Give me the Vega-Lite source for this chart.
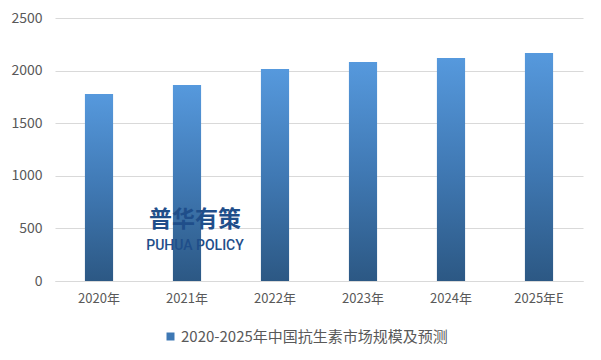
{
  "$schema": "https://vega.github.io/schema/vega-lite/v6.json",
  "autosize": {"type": "none"},
  "width": 528,
  "height": 263,
  "padding": {"left": 55, "top": 18, "right": 18, "bottom": 79},
  "background": "white",
  "config": {
    "view": {"stroke": null},
    "font": "Noto Sans CJK SC",
    "axis": {"labelFont": "Noto Sans CJK SC", "labelFontSize": 13, "labelColor": "#595959"}
  },
  "datasets": {
    "market": [
      {"year": "2020年", "value": 1778, "series": "2020-2025年中国抗生素市场规模及预测"},
      {"year": "2021年", "value": 1863, "series": "2020-2025年中国抗生素市场规模及预测"},
      {"year": "2022年", "value": 2015, "series": "2020-2025年中国抗生素市场规模及预测"},
      {"year": "2023年", "value": 2082, "series": "2020-2025年中国抗生素市场规模及预测"},
      {"year": "2024年", "value": 2120, "series": "2020-2025年中国抗生素市场规模及预测"},
      {"year": "2025年E", "value": 2167, "series": "2020-2025年中国抗生素市场规模及预测"}
    ],
    "mark": [
      {"year": "2021年", "value": 580, "text": "普华有策", "kind": "cn"},
      {"year": "2021年", "value": 333, "text": "PUHUA POLICY", "kind": "en"}
    ]
  },
  "layer": [
    {
      "data": {"name": "market"},
      "mark": {
        "type": "bar",
        "fill": {
          "gradient": "linear", "x1": 0, "y1": 0, "x2": 0, "y2": 1,
          "stops": [
            {"offset": 0, "color": "#5699DD"},
            {"offset": 0.5, "color": "#4079B4"},
            {"offset": 1, "color": "#2C5884"}
          ]
        }
      },
      "encoding": {
        "x": {
          "field": "year", "type": "nominal", "sort": null,
          "scale": {"paddingInner": 0.68, "paddingOuter": 0.34},
          "axis": {"title": null, "labelAngle": 0, "ticks": false, "domainColor": "#D9D9D9", "labelPadding": 11}
        },
        "y": {
          "field": "value", "type": "quantitative",
          "scale": {"domain": [0, 2500], "nice": false},
          "axis": {"title": null, "values": [0, 500, 1000, 1500, 2000, 2500], "format": "d", "ticks": false, "domain": false, "gridColor": "#D9D9D9", "labelPadding": 13, "labelFontSize": 14}
        }
      }
    },
    {
      "data": {"name": "market"},
      "mark": {"type": "bar"},
      "encoding": {
        "x": {"field": "year", "type": "nominal", "sort": null},
        "y": {"field": "value", "type": "quantitative", "scale": {"domain": [0, 2500], "nice": false}},
        "opacity": {"value": 0},
        "color": {
          "field": "series", "type": "nominal",
          "scale": {"range": ["#3E78B4"]},
          "legend": {
            "title": null, "orient": "none", "legendX": 108, "legendY": 311,
            "symbolType": "square", "symbolSize": 64, "symbolOpacity": 1,
            "labelFont": "Noto Sans CJK SC", "labelFontSize": 15, "labelColor": "#595959", "labelLimit": 400,
            "labelOffset": 3, "symbolStrokeWidth": 0,
            "encode": {
              "symbols": {"update": {"opacity": {"value": 1}, "fill": {"value": {
                "gradient": "linear", "x1": 0, "y1": 0, "x2": 0, "y2": 1,
                "stops": [{"offset": 0, "color": "#5699DD"}, {"offset": 1, "color": "#2C5884"}]
              }}}}
            }
          }
        }
      }
    },
    {
      "data": {"name": "mark"},
      "transform": [{"filter": "datum.kind === 'cn'"}],
      "mark": {"type": "text", "font": "Noto Sans CJK SC", "fontWeight": "bold", "fontSize": 23, "color": "#1F4E8A", "xOffset": 8, "baseline": "middle"},
      "encoding": {
        "x": {"field": "year", "type": "nominal", "sort": null},
        "y": {"field": "value", "type": "quantitative", "scale": {"domain": [0, 2500], "nice": false}},
        "text": {"field": "text"}
      }
    },
    {
      "data": {"name": "mark"},
      "transform": [{"filter": "datum.kind === 'en'"}],
      "mark": {"type": "text", "font": "Roboto", "fontSize": 14, "fontWeight": 500, "color": "#1F4E8A", "xOffset": 8, "baseline": "middle"},
      "encoding": {
        "x": {"field": "year", "type": "nominal", "sort": null},
        "y": {"field": "value", "type": "quantitative", "scale": {"domain": [0, 2500], "nice": false}},
        "text": {"field": "text"}
      }
    }
  ]
}
